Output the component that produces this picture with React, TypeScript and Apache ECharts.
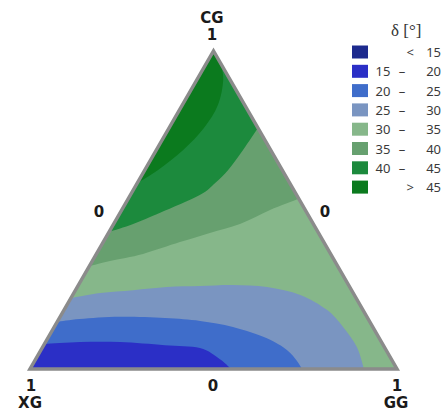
import React, { useEffect, useRef } from 'react';
import * as echarts from 'echarts';

// ternary axes: XG (bottom-left), GG (bottom-right), CG (top)
const axisNames = ['XG', 'GG', 'CG'];
const tickLabels = ['0', '1'];
const legendTitle = 'δ [°]';
const bandLabels = ['< 15', '15 – 20', '20 – 25', '25 – 30', '30 – 35', '35 – 40', '40 – 45', '> 45'];
const bandColors = ['#1d2a8e', '#2b2fc6', '#3f6dca', '#7a95c1', '#86b78a', '#67a06f', '#1c8a3d', '#0b7a1e'];

// triangle vertices as [GG, CG] (XG = 1 - GG - CG)
const vertexXG = [0, 0];
const vertexGG = [1, 0];
const vertexCG = [0, 1];

// contour lines δ = level, points [GG, CG], from the XG–CG side to the opposite side
const contour20 = [[0, 0.079], [0.094, 0.085], [0.203, 0.085], [0.33, 0.075], [0.43, 0.066], [0.502, 0.031], [0.548, 0]];
const contour25 = [[0, 0.148], [0.057, 0.157], [0.163, 0.164], [0.288, 0.16], [0.388, 0.151], [0.487, 0.132], [0.597, 0.097], [0.67, 0.06], [0.715, 0.025], [0.741, 0]];
const contour30 = [[0, 0.223], [0.072, 0.239], [0.157, 0.248], [0.244, 0.258], [0.333, 0.261], [0.421, 0.264], [0.517, 0.258], [0.62, 0.233], [0.716, 0.186], [0.787, 0.132], [0.856, 0.069], [0.91, 0]];
const contour35 = [[0, 0.324], [0.048, 0.34], [0.127, 0.362], [0.209, 0.399], [0.276, 0.428], [0.344, 0.456], [0.404, 0.5], [0.465, 0.535]];
const contour40 = [[0, 0.431], [0.053, 0.456], [0.109, 0.491], [0.189, 0.547], [0.212, 0.585], [0.227, 0.626], [0.236, 0.689], [0.242, 0.758]];
const contour45 = [[0, 0.585], [0.036, 0.626], [0.073, 0.689], [0.095, 0.758], [0.097, 0.83], [0.072, 0.909], [0.038, 0.962]];

// region of each band: null = none, 'all' = whole triangle, else the region above the contour
const bandRegions: any[] = [null, 'all', contour20, contour25, contour30, contour35, contour40, contour45];

const toXY = (p: number[]) => [p[0] + p[1] / 2, p[1]];

function trianglePath(api: any) {
  const pts = [vertexXG, vertexGG, vertexCG].map((v) => api.coord(toXY(v)));
  return `M${pts[0][0]},${pts[0][1]} L${pts[1][0]},${pts[1][1]} L${pts[2][0]},${pts[2][1]} Z`;
}

function regionPath(api: any, contour: number[][]) {
  const pts = contour.map((p) => api.coord(toXY(p)));
  let d = `M${pts[0][0]},${pts[0][1]}`;
  for (let i = 0; i < pts.length - 1; i++) {
    const p0 = pts[Math.max(i - 1, 0)];
    const p1 = pts[i];
    const p2 = pts[i + 1];
    const p3 = pts[Math.min(i + 2, pts.length - 1)];
    const c1 = [p1[0] + (p2[0] - p0[0]) / 6, p1[1] + (p2[1] - p0[1]) / 6];
    const c2 = [p2[0] - (p3[0] - p1[0]) / 6, p2[1] - (p3[1] - p1[1]) / 6];
    d += ` C${c1[0]},${c1[1]} ${c2[0]},${c2[1]} ${p2[0]},${p2[1]}`;
  }
  const last = contour[contour.length - 1];
  const corners: number[][] = [];
  if (last[1] < 1e-6) corners.push(vertexGG);
  corners.push(vertexCG);
  corners.forEach((v) => {
    const c = api.coord(toXY(v));
    d += ` L${c[0]},${c[1]}`;
  });
  return d + ' Z';
}

export default function App() {
  const ref = useRef<HTMLDivElement>(null);
  useEffect(() => {
    if (!ref.current) return;
    const chart = echarts.init(ref.current, null, { renderer: 'svg' });
    const labelFont = 'bold 15px "DejaVu Sans", sans-serif';
    const txt = (text: string, x: number, y: number) => ({
      type: 'text',
      x,
      y,
      style: {
        text,
        font: labelFont,
        lineHeight: 14,
        fill: '#1a1a1a',
        align: 'center',
        verticalAlign: 'middle',
        textAlign: 'center',
        textVerticalAlign: 'middle',
      },
    });

    const bandSeries = bandLabels.map((name, i) => ({
      type: 'custom',
      name,
      clip: false,
      silent: true,
      itemStyle: { color: bandColors[i] },
      data: bandRegions[i] ? [[0, 0]] : [],
      renderItem: (_params: any, api: any) => {
        const region = bandRegions[i];
        const d = region === 'all' ? trianglePath(api) : regionPath(api, region);
        return { type: 'path', shape: { pathData: d }, style: { fill: bandColors[i], stroke: null } };
      },
    }));

    const borderSeries = {
      type: 'custom',
      name: 'border',
      clip: false,
      silent: true,
      data: [[0, 0]],
      renderItem: (_params: any, api: any) => ({
        type: 'path',
        shape: { pathData: trianglePath(api) },
        style: { fill: 'none', stroke: '#8b8b8b', lineWidth: 3.5, lineJoin: 'miter' },
      }),
    };

    const richBase = { fontFamily: '"Noto Sans", sans-serif', fontSize: 13, color: '#3a3a3a' };

    chart.setOption({
      animation: false,
      title: {
        text: legendTitle,
        left: 386,
        top: 17,
        padding: 5,
        textStyle: { fontFamily: '"Liberation Serif", serif', fontSize: 17, fontWeight: 'normal', color: '#333' },
      },
      grid: { left: 30, top: 51, width: 367, height: 318 },
      xAxis: { type: 'value', min: 0, max: 1, show: false },
      yAxis: { type: 'value', min: 0, max: 1, show: false },
      legend: {
        orient: 'vertical',
        left: 347,
        top: 40,
        itemWidth: 16,
        itemHeight: 13,
        itemGap: 5.3,
        icon: 'rect',
        selectedMode: false,
        data: bandLabels.map((n, i) => ({ name: n, itemStyle: { color: bandColors[i] } })),
        formatter: (name: string) => {
          if (name.startsWith('<') || name.startsWith('>')) {
            return `{g|${name[0]}}{e|${name.slice(2)}}`;
          }
          const [lo, hi] = name.split(' – ');
          return `{a|${lo}}{b|–}{c|${hi}}`;
        },
        textStyle: {
          ...richBase,
          lineHeight: 14,
          rich: {
            a: { ...richBase, width: 20, align: 'right' },
            b: { ...richBase, width: 18, align: 'center' },
            c: { ...richBase, width: 30, align: 'right' },
            g: { ...richBase, width: 41, align: 'right' },
            e: { ...richBase, width: 27, align: 'right' },
          },
        },
      },
      graphic: [
        txt(axisNames[2], 212, 18),
        txt(tickLabels[1], 212, 35),
        txt(tickLabels[0], 99, 212),
        txt(tickLabels[0], 325, 212),
        txt(tickLabels[1], 31, 385.5),
        txt(axisNames[0], 30, 403),
        txt(tickLabels[0], 213, 386),
        txt(tickLabels[1], 397, 385.5),
        txt(axisNames[1], 396, 403),
      ],
      series: [...bandSeries, borderSeries],
    });
    return () => chart.dispose();
  }, []);
  return <div ref={ref} style={{ position: 'absolute', left: 0, top: 0, width: 448, height: 416 }} />;
}
